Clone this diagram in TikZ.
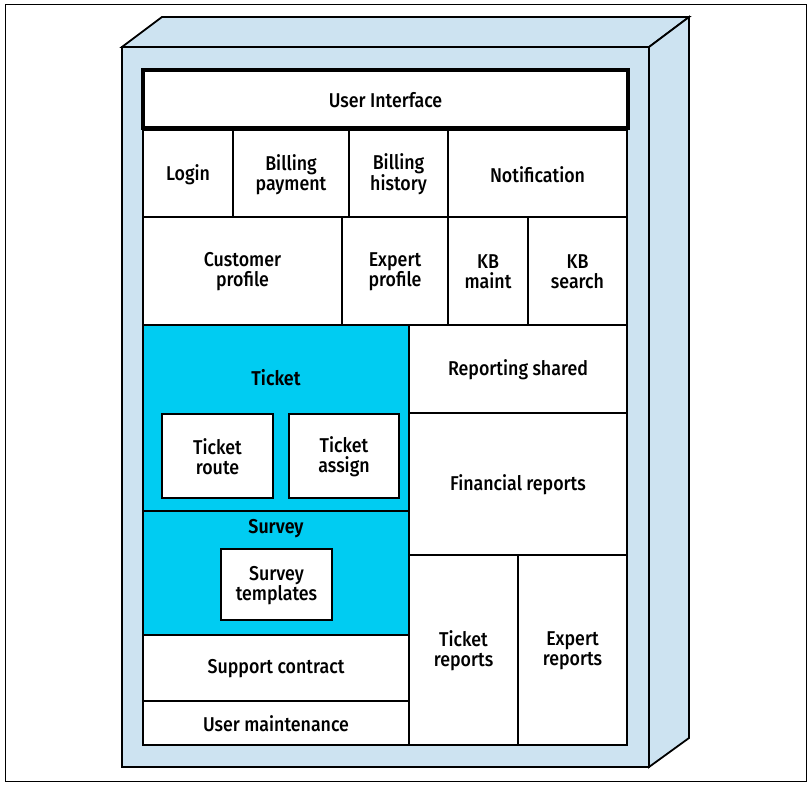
\documentclass[tikz,border=0pt]{standalone}
\usepackage{fontspec}
\setmainfont{Fira Sans Medium}[FakeStretch=0.89, BoldFont={Fira Sans SemiBold}]
\definecolor{boxblue}{HTML}{CDE3F1}
\definecolor{hicyan}{HTML}{00CCF2}
\tikzset{
  cellbox/.style={draw=black, line width=1.6pt, fill=white, inner sep=0pt, outer sep=0pt},
  hibox/.style={cellbox, fill=hicyan},
  celltext/.style={inner sep=0pt, align=center, font=\fontsize{20}{20}\selectfont},
  titletext/.style={font=\fontsize{20}{20}\selectfont\bfseries, inner sep=0pt},
  framebox/.style={draw=black, line width=1.8pt, fill=boxblue, line join=miter},
}
\newcommand\cell[7][cellbox]{%
  \node[#1, minimum width={(#5-#3)*1pt}, minimum height={(#6-#4)*1pt}] (#2) at ({(#3+#5)/2},{(#4+#6)/2}) {};
  \node[celltext] (#2-t) at ({(#3+#5)/2},{(#4+#6)/2+1}) {#7};}
\begin{document}
\begin{tikzpicture}[x=1pt,y=-1pt]
\useasboundingbox (0,0) rectangle (811,786);
\draw[line width=1pt] (5,5) rectangle (806,781);
% 3D frame
\coordinate (ftl) at (122,47);
\coordinate (ftr) at (649,47);
\coordinate (fbr) at (649,767);
\coordinate (fbl) at (122,767);
\coordinate (btl) at (162,17);
\coordinate (btr) at (689,17);
\coordinate (bbr) at (689,738);
\draw[framebox] (ftl) -- (btl) -- (btr) -- (ftr) -- cycle;
\draw[framebox] (ftr) -- (btr) -- (bbr) -- (fbr) -- cycle;
\draw[framebox] (ftl) rectangle (fbr);
% row 1
\cell{login}{143}{130}{233}{217}{Login}
\cell{bpay}{233}{130}{349}{217}{Billing\\payment}
\cell{bhist}{349}{130}{448}{217}{Billing\\history}
\cell{notif}{448}{130}{627}{217}{Notification}
% row 2
\cell{cprof}{143}{217}{342}{325}{Customer\\profile}
\cell{eprof}{342}{217}{448}{325}{Expert\\profile}
\cell{kbm}{448}{217}{528}{325}{KB\\maint}
\cell{kbs}{528}{217}{627}{325}{KB\\search}
% ticket
\cell[hibox]{ticket}{143}{325}{409}{511}{}
\node[titletext] (tickett) at (276,378) {Ticket};
\cell{troute}{162}{414}{273}{498}{Ticket\\route}
\cell{tassign}{289}{414}{399}{498}{Ticket\\assign}
% survey
\cell[hibox]{survey}{143}{511}{409}{635}{}
\node[titletext] (surveyt) at (276,529) {Survey};
\cell{stemp}{221}{549}{332}{620}{Survey\\templates}
\cell{supc}{143}{635}{409}{701}{Support contract}
\cell{userm}{143}{701}{409}{745}{User maintenance}
% right
\cell{reps}{409}{325}{627}{413}{Reporting shared}
\cell{finr}{409}{413}{627}{555}{Financial reports}
\cell{tickr}{409}{555}{518}{745}{Ticket\\reports}
\cell{expr}{518}{555}{627}{745}{Expert\\reports}
% UI
\cell[cellbox, line width=4.5pt]{ui}{143}{70}{628}{128}{User Interface}
\end{tikzpicture}
\end{document}
